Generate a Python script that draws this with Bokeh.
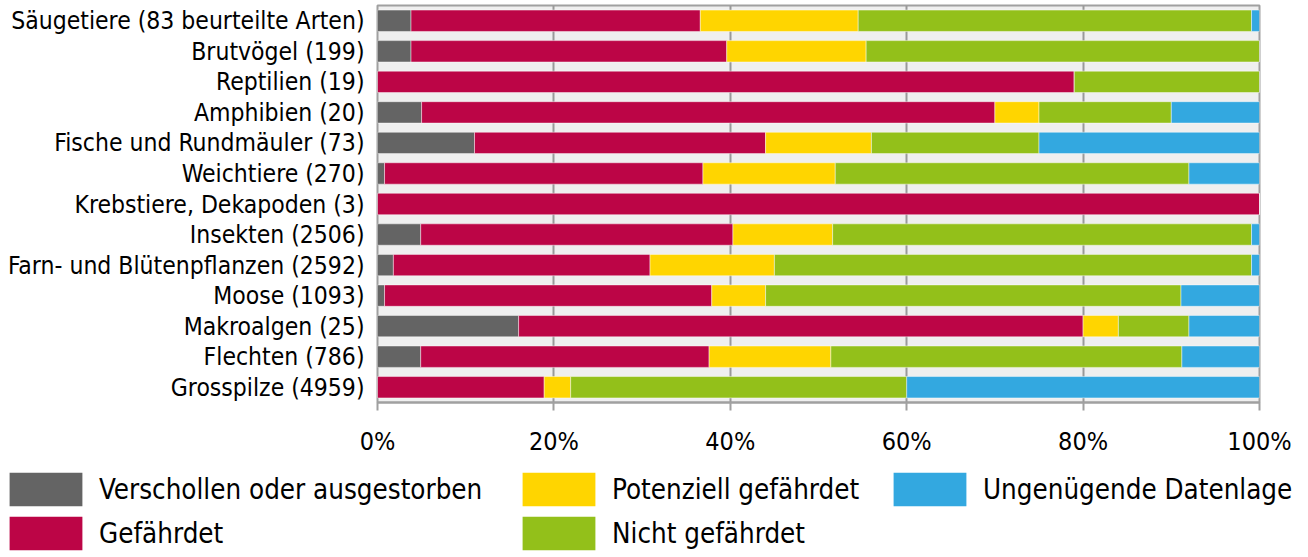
from bokeh.plotting import figure
from bokeh.layouts import column
from bokeh.models import FactorRange, Range1d, FixedTicker, Legend, LegendItem
from bokeh.embed import file_html
from bokeh.resources import INLINE

categories = [
    "Säugetiere (83 beurteilte Arten)",
    "Brutvögel (199)",
    "Reptilien (19)",
    "Amphibien (20)",
    "Fische und Rundmäuler (73)",
    "Weichtiere (270)",
    "Krebstiere, Dekapoden (3)",
    "Insekten (2506)",
    "Farn- und Blütenpflanzen (2592)",
    "Moose (1093)",
    "Makroalgen (25)",
    "Flechten (786)",
    "Grosspilze (4959)",
]
verschollen = [3.8, 3.8, 0, 5, 11, 0.8, 0, 4.9, 1.8, 0.8, 16, 4.9, 0]
gefaehrdet = [32.8, 35.8, 79, 65, 33, 36.1, 100, 35.4, 29.1, 37.1, 64, 32.7, 18.9]
potenziell = [17.9, 15.8, 0, 5, 12, 15, 0, 11.3, 14.1, 6.1, 4, 13.8, 3]
nicht = [44.6, 44.6, 21, 15, 19, 40.1, 0, 47.5, 54.1, 47.1, 8, 39.8, 38.1]
ungenuegend = [0.9, 0, 0, 10, 25, 8, 0, 0.9, 0.9, 8.9, 8, 8.8, 40]

series_names = ["Verschollen oder ausgestorben", "Gefährdet", "Potenziell gefährdet",
                "Nicht gefährdet", "Ungenügende Datenlage"]
series_keys = ["verschollen", "gefaehrdet", "potenziell", "nicht", "ungenuegend"]
colors = ["#646464", "#bc0546", "#ffd500", "#93c01a", "#33a8e0"]

tick_values = [0, 20, 40, 60, 80, 100]
tick_labels = ["0%", "20%", "40%", "60%", "80%", "100%"]

FONT = "DejaVu Sans Condensed, Liberation Sans"

data = dict(cat=categories, verschollen=verschollen, gefaehrdet=gefaehrdet,
            potenziell=potenziell, nicht=nicht, ungenuegend=ungenuegend)

p = figure(width=1300, height=463, output_backend="svg", toolbar_location=None,
           y_range=FactorRange(factors=list(reversed(categories)), range_padding=0),
           x_range=Range1d(0, 100),
           min_border_left=377, min_border_right=41, min_border_top=5, min_border_bottom=61)
p.frame_align = False

renderers = p.hbar_stack(series_keys, y="cat", height=0.7, color=colors, source=data,
                         line_color="white", line_alpha=0.45, line_width=1)

p.background_fill_color = "#efefef"
p.border_fill_color = "white"
p.outline_line_color = "#a0a0a0"
p.outline_line_width = 2

p.ygrid.grid_line_color = None
p.xgrid.grid_line_color = "#999999"
p.xgrid.grid_line_width = 2
p.xaxis.ticker = FixedTicker(ticks=tick_values)
p.xaxis.major_label_overrides = {v: l for v, l in zip(tick_values, tick_labels)}
p.xaxis.axis_line_color = "#a0a0a0"
p.xaxis.axis_line_width = 2
p.xaxis.major_tick_line_color = "#a0a0a0"
p.xaxis.major_tick_line_width = 2
p.xaxis.major_tick_out = 8
p.xaxis.major_tick_in = 0
p.xaxis.minor_tick_line_color = None
p.xaxis.major_label_text_font = FONT
p.xaxis.major_label_text_font_size = "25px"
p.xaxis.major_label_text_color = "black"
p.xaxis.major_label_standoff = 16

p.yaxis.axis_line_color = None
p.yaxis.major_tick_line_color = None
p.yaxis.minor_tick_line_color = None
p.yaxis.major_label_text_font = FONT
p.yaxis.major_label_text_font_size = "24.5px"
p.yaxis.major_label_text_color = "black"
p.yaxis.major_label_standoff = 7

# legend figure below the chart
lp = figure(width=1300, height=91, output_backend="svg", toolbar_location=None,
            x_range=Range1d(0, 1), y_range=Range1d(0, 1),
            x_axis_type=None, y_axis_type=None, min_border=0)
lp.frame_align = False
lp.outline_line_color = None
lp.grid.grid_line_color = None
legend_renderers = [lp.hbar(y=[0], left=[0], right=[0], height=0, color=c, line_color=None)
                    for c in colors]

def make_legend(idx, x, y):
    items = [LegendItem(label=series_names[i], renderers=[legend_renderers[i]]) for i in idx]
    lg = Legend(items=items, location=(x, y), orientation="vertical",
                glyph_width=91, glyph_height=42, label_standoff=8, spacing=2,
                padding=0, margin=0, border_line_color=None, background_fill_alpha=0,
                label_text_font=FONT, label_text_font_size="27.5px", label_text_color="black")
    lp.add_layout(lg, "center")

make_legend([0, 1], 0, 0)
make_legend([2, 3], 513, 0)
make_legend([4], 884, 44)

open("out.html", "w").write(file_html(column(p, lp, spacing=0), INLINE))
